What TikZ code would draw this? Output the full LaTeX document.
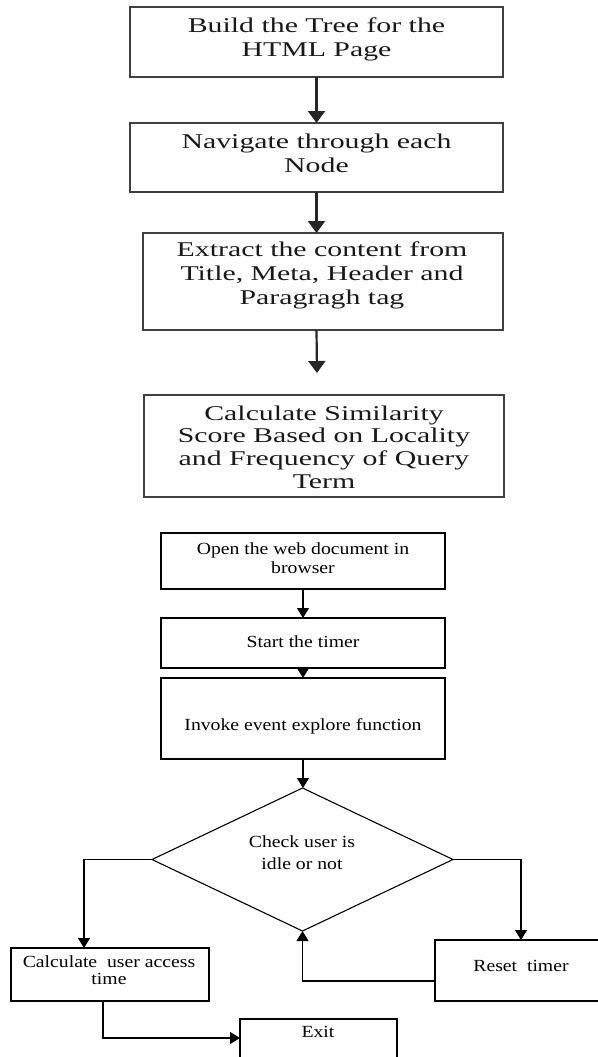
\documentclass[tikz,border=0pt]{standalone}
\usepackage{fontspec}
\setmainfont{Liberation Serif}
\newfontfamily\topfont[FakeStretch=1.42]{Liberation Serif}
\newfontfamily\botfont[FakeStretch=1.16]{Liberation Serif}
\usetikzlibrary{arrows.meta,shapes.geometric}
\begin{document}
\begin{tikzpicture}[x=1pt,y=-1pt,
  topbox/.style={draw=black!75,line width=1.5pt,inner sep=0pt,outer sep=0pt},
  botbox/.style={draw=black,line width=1.1pt,inner sep=0pt,outer sep=0pt},
  toptext/.style={font=\topfont\fontsize{21}{24}\selectfont,align=center,inner sep=0pt,text=black!90},
  bottext/.style={font=\botfont\fontsize{17}{19}\selectfont,align=center,inner sep=0pt,text=black},
  toparrow/.style={draw=black!85,line width=2.2pt,-{Triangle[length=12pt,width=17pt]}},
  botarrow/.style={draw=black,line width=1.1pt,-{Triangle[length=10pt,width=12pt]}}]
\useasboundingbox (0,0) rectangle (597,1057);
% top chart
\node[topbox,minimum width=373pt,minimum height=70pt] (b1) at (316.5,42) {};
\node[toptext] (t1) at (316.5,39) {Build the Tree for the\\HTML Page};
\node[topbox,minimum width=373pt,minimum height=69pt] (b2) at (316.5,157.5) {};
\node[toptext] (t2) at (316.5,153) {Navigate through each\\Node};
\node[topbox,minimum width=360pt,minimum height=97pt] (b3) at (323,281.5) {};
\node[toptext] (t3) at (322,275) {Extract the content from\\Title, Meta, Header and\\Paragragh tag};
\node[topbox,minimum width=360pt,minimum height=102pt] (b4) at (324,446) {};
\node[toptext,font=\topfont\fontsize{21}{22.7}\selectfont] (t4) at (324,447) {Calculate Similarity\\Score Based on Locality\\and Frequency of Query\\Term};
\coordinate (c4) at (317,373);
\draw[toparrow] (b1.south) -- (b2.north);
\draw[toparrow] (b2.south) -- (b2.south |- b3.north);
\draw[toparrow] (b2.south |- b3.south) -- (c4);
% bottom chart
\node[botbox,minimum width=284pt,minimum height=56pt] (b5) at (303,561) {};
\node[bottext] (t5) at (303,558) {Open the web document in\\browser};
\node[botbox,minimum width=284pt,minimum height=50pt] (b6) at (303,643) {};
\node[bottext] (t6) at (303,642) {Start the timer};
\node[botbox,minimum width=284pt,minimum height=81pt] (b7) at (303,718.5) {};
\node[bottext] (t7) at (303,726) {Invoke event explore function};
\node[botbox,diamond,minimum width=301pt,minimum height=143pt] (dia) at (302.5,859.5) {};
\node[bottext,font=\botfont\fontsize{17}{22}\selectfont] (td) at (302,853) {Check user is\\idle or not};
\node[botbox,minimum width=198pt,minimum height=53pt] (cu) at (110,974.5) {};
\node[bottext,font=\botfont\fontsize{17}{17}\selectfont] (tcu) at (109,970) {Calculate\ \ user access\\time};
\node[botbox,minimum width=172pt,minimum height=61pt] (rs) at (521,970.5) {};
\node[bottext] (trs) at (521,966) {Reset\ \ timer};
\node[botbox,minimum width=157pt,minimum height=56pt] (ex) at (318.5,1047) {};
\node[bottext] (tex) at (318,1032) {Exit};
\draw[botarrow] (b5.south) -- (b6.north);
\draw[botarrow] (b6.south) -- (b7.north);
\draw[botarrow] (b7.south) -- (b7.south |- dia.north);
\draw[botarrow] (dia.west) -| ([xshift=-26pt]cu.north);
\draw[botarrow] (dia.east) -| (rs.north);
\draw[botarrow] ([yshift=-10.5pt]rs.west) -| (dia.south);
\draw[botarrow] ([xshift=-7pt]cu.south) |- ([yshift=9pt]ex.west);
\end{tikzpicture}
\end{document}
